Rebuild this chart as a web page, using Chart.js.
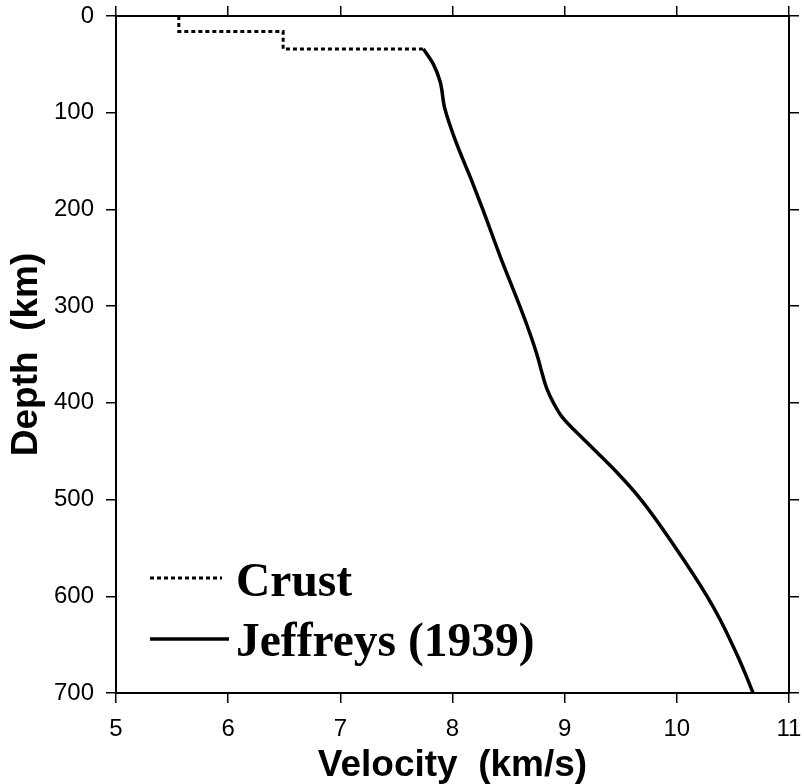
<!DOCTYPE html>
<html>
<head>
<meta charset="utf-8">
<script src="https://cdn.jsdelivr.net/npm/chart.js@4/dist/chart.umd.min.js"></script>
<style>
  html, body { margin: 0; padding: 0; background: #ffffff; }
  #wrap { width: 804px; height: 784px; }
</style>
</head>
<body>
<div id="wrap"><canvas id="c" width="804" height="784"></canvas></div>
<script>
// ---- data ----
const crustVelocity = [5.56, 6.49, 7.74];
const crustDepth    = [0, 16, 34];

const jeffreysVelocity = [7.74, 7.83, 7.89, 7.93, 8.03, 8.17, 8.27, 8.43, 8.60, 8.665, 8.725, 8.765, 8.80, 8.84, 8.90, 8.98, 9.19, 9.45, 9.68, 9.99, 10.27, 10.39, 10.535, 10.61, 10.68];
const jeffreysDepth    = [34,   50,   68,   95,   130,  170,  200,  250,  300,  320,   340,   355,   370,  385,  400,  415,  440,  470,  500,  550,  600,   625,   660,    680,   700];

const velocityTicks = [5, 6, 7, 8, 9, 10, 11];
const depthTicks = [0, 100, 200, 300, 400, 500, 600, 700];

const seriesNames = ['Crust', 'Jeffreys (1939)'];
const xTitle = 'Velocity  (km/s)';
const yTitle = 'Depth  (km)';

const toPts = (xs, ys) => xs.map((x, i) => ({ x: x, y: ys[i] }));

const legendPlugin = {
  id: 'insideLegend',
  afterDraw(chart) {
    const ctx = chart.ctx;
    ctx.save();
    ctx.strokeStyle = '#000';
    ctx.lineCap = 'butt';
    // Crust (dotted)
    ctx.lineWidth = 3;
    ctx.setLineDash([4, 3]);
    ctx.beginPath(); ctx.moveTo(150, 578); ctx.lineTo(222, 578); ctx.stroke();
    // Jeffreys (solid)
    ctx.setLineDash([]);
    ctx.lineWidth = 3.5;
    ctx.beginPath(); ctx.moveTo(150, 639); ctx.lineTo(229, 639); ctx.stroke();
    ctx.fillStyle = '#000';
    ctx.font = 'bold 47.5px "Liberation Serif", "Times New Roman", serif';
    ctx.textBaseline = 'alphabetic';
    ctx.textAlign = 'left';
    ctx.fillText(seriesNames[0], 236, 596);
    ctx.fillText(seriesNames[1], 236, 656);
    ctx.restore();
  }
};

const fixedSize = (size) => function (scale) {
  if (scale.isHorizontal()) scale.height = size; else scale.width = size;
  scale.paddingLeft = 0; scale.paddingRight = 0;
  scale.paddingTop = 0; scale.paddingBottom = 0;
};

const gridOpts = {
  display: true,
  drawOnChartArea: false,
  drawTicks: true,
  tickLength: 10,
  color: '#000',
  lineWidth: 1.5
};
const borderOpts = { display: true, color: '#000', width: 2 };
const sansFamily = '"Liberation Sans", Arial, Helvetica, sans-serif';

new Chart(document.getElementById('c'), {
  type: 'scatter',
  data: {
    datasets: [
      {
        label: seriesNames[0],
        data: toPts(crustVelocity, crustDepth),
        showLine: true,
        stepped: 'after',
        borderColor: '#000',
        borderWidth: 3,
        borderDash: [4, 3],
        pointRadius: 0,
        fill: false,
        xAxisID: 'x',
        yAxisID: 'y'
      },
      {
        label: seriesNames[1],
        data: toPts(jeffreysVelocity, jeffreysDepth),
        showLine: true,
        indexAxis: 'y',
        cubicInterpolationMode: 'monotone',
        borderColor: '#000',
        borderWidth: 3.5,
        borderJoinStyle: 'round',
        pointRadius: 0,
        fill: false,
        xAxisID: 'x',
        yAxisID: 'y'
      }
    ]
  },
  options: {
    responsive: false,
    animation: false,
    layout: { padding: 0 },
    plugins: {
      legend: { display: false },
      tooltip: { enabled: false }
    },
    scales: {
      x: {
        type: 'linear',
        position: 'bottom',
        min: 5, max: 11,
        afterBuildTicks: (s) => { s.ticks = velocityTicks.map(v => ({ value: v })); },
        afterFit: fixedSize(91),
        grid: gridOpts,
        border: borderOpts,
        ticks: {
          color: '#000',
          padding: 12,
          maxRotation: 0,
          font: { family: sansFamily, size: 24 }
        },
        title: {
          display: true,
          text: xTitle,
          color: '#000',
          font: { family: sansFamily, size: 37, weight: 'bold', lineHeight: 1 },
          padding: { top: 0, bottom: 0 }
        }
      },
      xTop: {
        type: 'linear',
        position: 'top',
        display: true,
        min: 5, max: 11,
        afterBuildTicks: (s) => { s.ticks = velocityTicks.map(v => ({ value: v })); },
        afterFit: fixedSize(16),
        grid: gridOpts,
        border: borderOpts,
        ticks: { display: false }
      },
      y: {
        type: 'linear',
        position: 'left',
        reverse: true,
        min: 0, max: 700,
        afterBuildTicks: (s) => { s.ticks = depthTicks.map(v => ({ value: v })); },
        afterFit: fixedSize(116),
        grid: gridOpts,
        border: borderOpts,
        ticks: {
          color: '#000',
          padding: 12,
          font: { family: sansFamily, size: 24 }
        },
        title: {
          display: true,
          text: yTitle,
          color: '#000',
          font: { family: sansFamily, size: 37, weight: 'bold', lineHeight: 1 },
          padding: { top: 8, bottom: 0 }
        }
      },
      yRight: {
        type: 'linear',
        position: 'right',
        display: true,
        reverse: true,
        min: 0, max: 700,
        afterBuildTicks: (s) => { s.ticks = depthTicks.map(v => ({ value: v })); },
        afterFit: fixedSize(15),
        grid: gridOpts,
        border: borderOpts,
        ticks: { display: false }
      }
    }
  },
  plugins: [legendPlugin]
});
</script>
</body>
</html>
